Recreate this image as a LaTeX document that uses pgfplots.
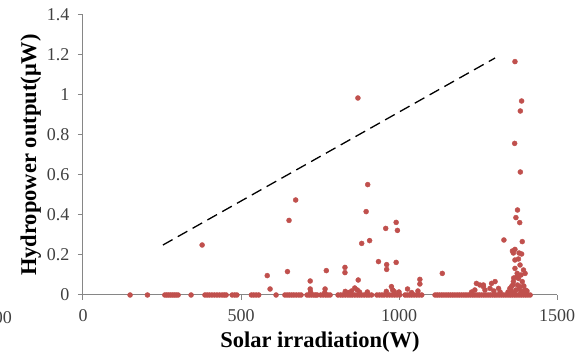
\documentclass[border=0pt]{standalone}
\usepackage{pgfplots}
\pgfplotsset{compat=1.18}
\usepackage{fontspec}
\setmainfont{Liberation Serif}
\definecolor{mk}{HTML}{C0504D}
\definecolor{axgray}{HTML}{868686}
\definecolor{tkgray}{HTML}{404040}
\begin{document}
\begin{tikzpicture}[x=1pt,y=1pt]
\path[use as bounding box] (0,0) rectangle (584,356);
\node[anchor=east, text=tkgray, font=\fontsize{18}{18}\selectfont, inner sep=0pt] at (12,38) {00};
\begin{axis}[
  at={(83pt,61pt)}, anchor=south west,
  scale only axis, width=474pt, height=280pt,
  xmin=0, xmax=1500, ymin=0, ymax=1.4,
  clip=false,
  axis lines*=left,
  axis line style={axgray, line width=1pt},
  tick style={axgray, line width=1pt},
  tick align=outside, major tick length=5pt,
  xtick={0,500,1000,1500}, xticklabels={0,500,1000,1500},
  ytick={0,0.2,0.4,0.6,0.8,1,1.2,1.4},
  yticklabels={0,0.2,0.4,0.6,0.8,1,1.2,1.4},
  ticklabel style={font=\fontsize{18}{18}\selectfont, text=tkgray},
  yticklabel style={xshift=-5pt},
  xticklabel style={yshift=-6pt},
  /pgf/number format/assume math mode=true,
  xlabel={Solar irradiation(W)},
  ylabel={Hydropower output(μW)},
  label style={font=\bfseries\fontsize{22.5}{22.5}\selectfont},
  xlabel style={at={(axis description cs:0.5,-0.168)}, anchor=center},
  ylabel style={at={(axis description cs:-0.11,0.5)}, anchor=center, rotate=0},
]
\addplot[black, line width=1.3pt, dash pattern=on 11pt off 6pt] coordinates {(253,0.25) (1304,1.185)};
% baseline points
\addplot[only marks, mark=*, mark size=2.5pt, mk, mark options={draw=none, fill=mk}] coordinates {
(149,0) (204,0) (259,0) (265,0) (271,0) (277,0) (283,0) (289,0) (295,0) (301,0) (342,0)
(386,0) (393,0) (400,0) (408,0) (416,0) (424,0) (432,0) (440,0) (447,0) (453,0)
(472,0) (480,0) (487,0) (533,0) (540,0) (548,0) (556,0) (611,0)
(639,0) (646,0) (653,0) (660,0) (667,0) (675,0) (683,0) (690,0)
(709,0) (716,0) (723,0) (730,0) (736,0) (741,0) (752,0) (760,0) (768,0) (775,0) (782,0)
(807,0) (815,0) (822,0) (830,0) (838,0) (845,0) (852,0) (860,0) (868,0) (875,0) (882,0) (890,0) (898,0) (905,0) (913,0)
(930,0) (938,0) (946,0) (953,0) (962,0) (970,0) (978,0) (986,0) (994,0) (1002,0)
(1019,0) (1026,0) (1033,0) (1040,0) (1048,0) (1056,0) (1064,0) (1072,0)
(1114,0) (1121,0) (1128,0) (1135,0) (1142,0) (1149,0) (1156,0) (1163,0) (1170,0) (1177,0) (1184,0) (1191,0) (1198,0)
(1205,0) (1212,0) (1219,0) (1226,0) (1233,0) (1240,0) (1247,0) (1254,0) (1261,0) (1268,0) (1275,0) (1282,0) (1289,0)
(1296,0) (1303,0) (1310,0) (1317,0) (1324,0) (1331,0) (1338,0) (1345,0) (1352,0) (1359,0) (1366,0) (1373,0) (1380,0)
(1387,0) (1394,0) (1401,0) (1408,0) (1415,0)
};
% raised points
\addplot[only marks, mark=*, mark size=2.5pt, mk, mark options={draw=none, fill=mk}] coordinates {
(377,0.25) (673,0.475) (652,0.373) (583,0.097) (592,0.03) (647,0.117)
(719,0.07) (719,0.03) (770,0.122) (766,0.03) (870,0.985)
(1367,1.167) (1388,0.97) (1384,0.92) (1366,0.758) (1384,0.615)
(901,0.552) (896,0.417) (991,0.363) (958,0.333) (995,0.323) (882,0.258) (907,0.272)
(935,0.167) (961,0.152) (961,0.128) (991,0.163) (829,0.138) (829,0.112) (871,0.075)
(850,0.02) (860,0.035) (868,0.025) (875,0.015) (976,0.042) (980,0.025) (985,0.017)
(1027,0.03) (1066,0.078) (1066,0.055) (1137,0.108)
(1245,0.058) (1256,0.05) (1267,0.042) (1293,0.058)
(1375,0.425) (1370,0.387) (1382,0.362) (1332,0.275) (1390,0.267) (1359,0.22) (1367,0.228)
(1388,0.205) (1367,0.175) (1383,0.15) (1367,0.133) (1394,0.125) (1374,0.108) (1399,0.108)
(1378,0.083) (1362,0.067) (1390,0.067) (1356,0.042) (1383,0.042) (1370,0.025) (1393,0.02)
(1400,0.025) (1267,0.05) (1304,0.067) (1288,0.033) (1315,0.033) (1272,0.025) (1351,0.033)
(1345,0.015) (1355,0.02) (1360,0.05) (1365,0.01) (1375,0.05) (1380,0.03) (1385,0.01)
(1395,0.045) (1398,0.01) (1405,0.02) (1372,0.09) (1386,0.1) (1363,0.085)
(1378,0.18) (1380,0.21) (1362,0.21)
(720,0.015) (765,0.012) (830,0.018) (840,0.012) (900,0.015) (960,0.018) (1000,0.015)
(1040,0.012) (1060,0.02) (1230,0.015) (1240,0.025) (1300,0.02) (1320,0.015)
};
\end{axis}
\end{tikzpicture}
\end{document}
